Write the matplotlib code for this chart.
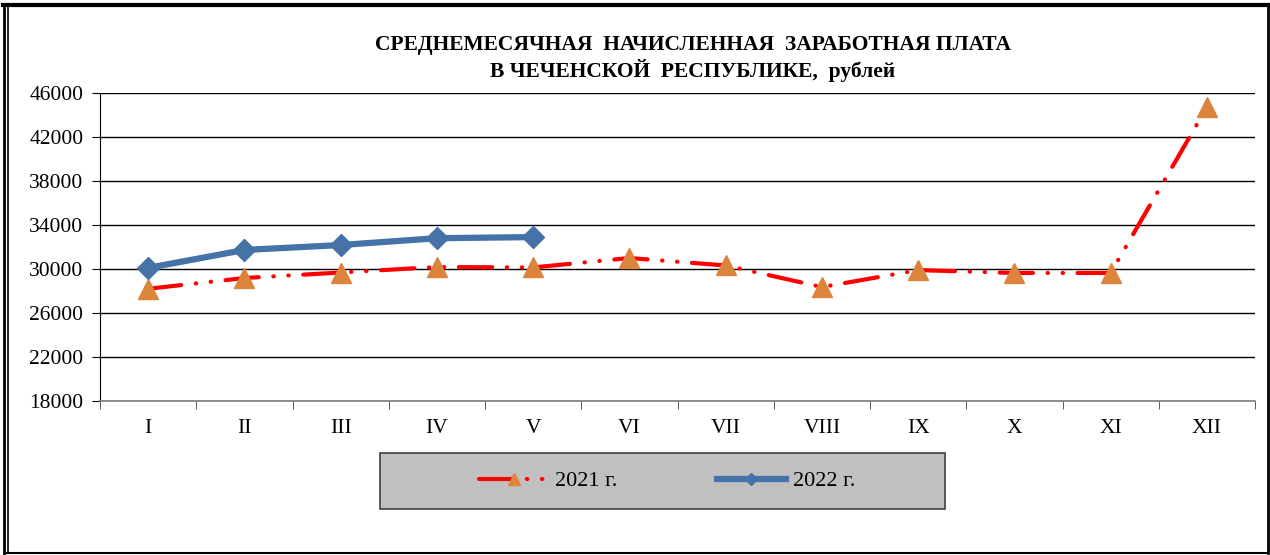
import numpy as np
import matplotlib.pyplot as plt
from matplotlib.patches import Rectangle
from matplotlib.lines import Line2D

months = ['I', 'II', 'III', 'IV', 'V', 'VI', 'VII', 'VIII', 'IX', 'X', 'XI', 'XII']
wage_2021 = [28200, 29180, 29680, 30180, 30140, 31000, 30320, 28360, 29900, 29640, 29640, 44700]
wage_2022 = [30100, 31730, 32180, 32800, 32900]
yticks = [18000, 22000, 26000, 30000, 34000, 38000, 42000, 46000]

plt.rcParams['font.family'] = ['Liberation Serif', 'DejaVu Serif']

fig = plt.figure(figsize=(12.7, 5.55), dpi=100)
ax = fig.add_axes([100/1270, 1-401/555, 1155/1270, 308/555])

x = np.arange(len(months))
l1, = ax.plot(x, wage_2021, color='#ff0000', lw=3, dashes=(8, 3.5, 0.1, 3.5, 0.1, 3.5),
              dash_capstyle='round', marker='^', ms=14, mfc='#dd843c', mec='#dd843c',
              label='2021 г.', zorder=3)
l2, = ax.plot(x[:len(wage_2022)], wage_2022, color='#4572a7', lw=4.5, marker='D', ms=11,
              mfc='#4572a7', mec='#4572a7', label='2022 г.', zorder=4)

ax.set_xlim(-0.5, len(months) - 0.5)
ax.set_ylim(18000, 46000)
ax.set_yticks(yticks)
ax.set_yticklabels([str(v) for v in yticks], fontsize=15.5)
ax.set_xticks(x)
ax.set_xticklabels(months, fontsize=15.5)
ax.set_xticks(np.arange(-0.5, len(months)), minor=True)
ax.tick_params(axis='x', which='major', length=0, pad=13)
ax.tick_params(axis='x', which='minor', length=6, direction='out', color='#404040')
ax.tick_params(axis='y', length=6, direction='out', pad=6)
ax.yaxis.grid(True, color='black', lw=1)
ax.set_axisbelow(True)
for s in ['top', 'right']:
    ax.spines[s].set_visible(False)
ax.spines['left'].set_color('black')
ax.spines['bottom'].set_color('#808080')
ax.spines['bottom'].set_linewidth(1.2)

fig.text(693/1270, 1-45/555, 'СРЕДНЕМЕСЯЧНАЯ  НАЧИСЛЕННАЯ  ЗАРАБОТНАЯ ПЛАТА',
         ha='center', va='center', fontsize=15.5, fontweight='bold')
fig.text(693/1270, 1-70/555, 'В ЧЕЧЕНСКОЙ  РЕСПУБЛИКЕ,  рублей',
         ha='center', va='center', fontsize=15.5, fontweight='bold')

# legend box
fig.patches.append(Rectangle((380/1270, 1-509/555), 565/1270, 56/555, transform=fig.transFigure,
                             facecolor='#c0c0c0', edgecolor='#404040', lw=1.2, zorder=0))
fig.legend(handles=[l1, l2], loc='center', bbox_to_anchor=(667/1270, 1-481/555), ncol=2,
           frameon=False, fontsize=16, handlelength=3.1, columnspacing=4.5, handletextpad=0.3,
           markerscale=0.6)

# outer frame
fig.add_artist(Line2D([3/1270, 1268/1270], [1-5/555, 1-5/555], transform=fig.transFigure, color='black', lw=3))
fig.add_artist(Line2D([4/1270, 4/1270], [1-4/555, 0], transform=fig.transFigure, color='black', lw=2))
fig.add_artist(Line2D([7.5/1270, 7.5/1270], [1-6/555, 1-553/555], transform=fig.transFigure, color='black', lw=1.2))
fig.add_artist(Line2D([1268/1270, 1268/1270], [1-4/555, 1-553/555], transform=fig.transFigure, color='black', lw=2))
fig.add_artist(Line2D([7/1270, 1268/1270], [1-553/555, 1-553/555], transform=fig.transFigure, color='black', lw=1.5))

fig.savefig('out.png', dpi=100)
